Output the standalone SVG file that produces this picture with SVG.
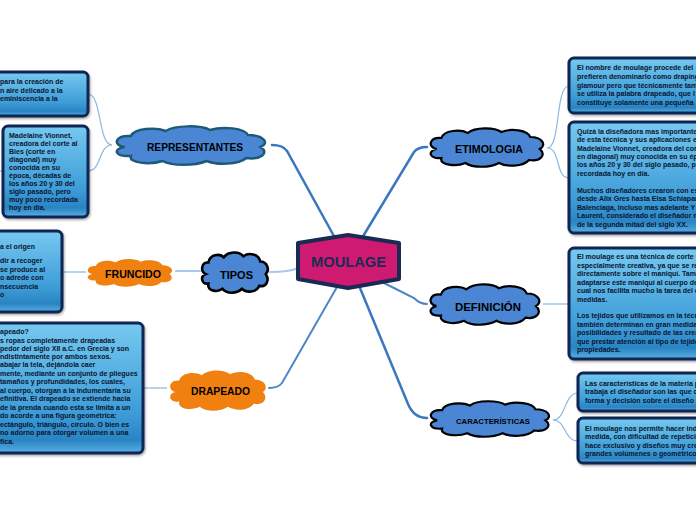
<svg xmlns="http://www.w3.org/2000/svg" xmlns:xlink="http://www.w3.org/1999/xlink" width="696" height="520" viewBox="0 0 696 520">
<defs>
<linearGradient id="boxg" x1="0" y1="0" x2="0" y2="1">
<stop offset="0" stop-color="#76c9f0"/>
<stop offset="0.7" stop-color="#3d9cd7"/>
<stop offset="0.9" stop-color="#2a84c3"/>
<stop offset="1" stop-color="#5aafe2"/>
</linearGradient>
<filter id="sh" x="-10%" y="-10%" width="120%" height="130%">
<feDropShadow dx="1" dy="1.5" stdDeviation="1" flood-color="#000" flood-opacity="0.35"/>
</filter>
<path id="cloud" vector-effect="non-scaling-stroke" d="M8,22 C0,20 2,10 12,11 C14,3 28,2 34,6 C40,0 56,0 62,5 C70,1 84,3 86,10 C96,10 100,18 94,22 C100,28 94,35 85,33 C80,40 66,40 60,36 C52,41 38,41 32,36 C24,40 10,38 12,31 C2,32 0,24 8,22 Z"/>
</defs>
<style>
.box{fill:url(#boxg);stroke:#0e2552;stroke-width:3;filter:url(#sh)}
.bt{font-family:"Liberation Sans",Arial,sans-serif;font-weight:bold;font-size:7px;fill:#0a1530}
.ct{font-family:"Liberation Sans",Arial,sans-serif;font-weight:bold;fill:#000;text-anchor:middle}
.blue{fill:#4a86d3;stroke:#000;stroke-width:2.2}
.orange{fill:#f08010;stroke:none}
.main{fill:none;stroke:#3a77c0;stroke-width:2.5;stroke-linecap:round}
.mainl{fill:none;stroke:#a9c8e8;stroke-width:2.2;stroke-linecap:round}
.thin{fill:none;stroke:#8db6e0;stroke-width:1.2}
</style>
<rect width="696" height="520" fill="#ffffff"/>
<g id="connectors">
<path class="main" d="M335,238 L287,151 Q283,145 272,145"/>
<path class="main" d="M362,238 L414,152 Q418,147 427,147"/>
<path class="mainl" d="M298,268 Q290,272 270,272"/>
<path class="main" d="M337,287 L282,383 Q278,388 269,388" style="stroke:#4d86c6;stroke-width:2"/>
<path class="main" d="M384,283 L414,298 Q420,304 427,304" style="stroke:#4d86c6;stroke-width:2"/>
<path class="main" d="M360,288 L408,404 Q414,418 427,418"/>
<path class="mainl" d="M200,271 L176,271"/>
<path class="thin" d="M86,272 L62,272"/>
<path class="thin" d="M167,388 L143,388"/>
<path class="thin" d="M112,145 C98,145 102,94 88,94"/>
<path class="thin" d="M112,145 C98,145 102,171 88,171"/>
<path class="thin" d="M0,171 L4,171"/>
<path class="thin" d="M547,148 C561,148 555,86 569,86"/>
<path class="thin" d="M547,148 C561,148 555,178 569,178"/>
<path class="thin" d="M543,304 L569,304"/>
<path class="thin" d="M553,420 C566,420 564,393 578,393"/>
<path class="thin" d="M553,420 C566,420 564,441 578,441"/>
</g>
<g id="moulage">
<path d="M298,243 L348,235 L399,243 L399,279 L348,288 L298,279 Z" fill="#cf1a72" stroke="#1b2a52" stroke-width="4" stroke-linejoin="round"/>
<text x="348.5" y="267" font-family="'Liberation Sans',Arial,sans-serif" font-weight="bold" font-size="15.5" fill="#1b2a52" text-anchor="middle" textLength="75" lengthAdjust="spacingAndGlyphs">MOULAGE</text>
</g>
<g id="representantes">
<use xlink:href="#cloud" href="#cloud" class="blue" style="stroke:#1c5a78;stroke-width:2.5" transform="translate(112,125) scale(1.58,1)"/>
<text class="ct" x="195" y="151" font-size="11" textLength="96" lengthAdjust="spacingAndGlyphs">REPRESENTANTES</text>
</g>
<g id="etimologia">
<use xlink:href="#cloud" href="#cloud" class="blue" transform="translate(427,127) scale(1.2,1)"/>
<text class="ct" x="489" y="153" font-size="11" textLength="68" lengthAdjust="spacingAndGlyphs">ETIMOLOGIA</text>
</g>
<g id="tipos">
<use xlink:href="#cloud" href="#cloud" class="blue" style="stroke-width:2.6" transform="translate(200,251) scale(0.7,1.05)"/>
<text class="ct" x="236.5" y="279" font-size="11" textLength="33" lengthAdjust="spacingAndGlyphs">TIPOS</text>
</g>
<g id="fruncido">
<use xlink:href="#cloud" href="#cloud" class="orange" transform="translate(85,258) scale(0.9,0.725)"/>
<text class="ct" x="133" y="278" font-size="11" textLength="56" lengthAdjust="spacingAndGlyphs">FRUNCIDO</text>
</g>
<g id="drapeado">
<use xlink:href="#cloud" href="#cloud" class="orange" transform="translate(167,369) scale(1.02,1.05)"/>
<text class="ct" x="220.5" y="395" font-size="11" textLength="59" lengthAdjust="spacingAndGlyphs">DRAPEADO</text>
</g>
<g id="definicion">
<use xlink:href="#cloud" href="#cloud" class="blue" transform="translate(427,283) scale(1.16,1.05)"/>
<text class="ct" x="488" y="311" font-size="11" textLength="66" lengthAdjust="spacingAndGlyphs">DEFINICIÓN</text>
</g>
<g id="caracteristicas">
<use xlink:href="#cloud" href="#cloud" class="blue" transform="translate(427,400) scale(1.26,0.925)"/>
<text class="ct" x="493" y="424" font-size="7.5" textLength="74" lengthAdjust="spacingAndGlyphs">CARACTERÍSTICAS</text>
</g>
<g id="box-rep1">
<rect class="box" x="-10" y="72" width="98" height="44" rx="5"/>
<text class="bt" x="0" y="84">para la creación de</text>
<text class="bt" x="0" y="92.5">n aire delicado a la</text>
<text class="bt" x="0" y="101">eminiscencia a la</text>
</g>
<g id="box-rep2">
<rect class="box" x="3" y="126" width="85" height="91" rx="5"/>
<text class="bt" x="9" y="138">Madelaine Vionnet,</text>
<text class="bt" x="9" y="146">creadora del corte al</text>
<text class="bt" x="9" y="154">Bies (corte en</text>
<text class="bt" x="9" y="162">diagonal) muy</text>
<text class="bt" x="9" y="170">conocida en su</text>
<text class="bt" x="9" y="177.5">época, décadas de</text>
<text class="bt" x="9" y="185.5">los años 20 y 30 del</text>
<text class="bt" x="9" y="193.5">siglo pasado, pero</text>
<text class="bt" x="9" y="201.5">muy poco recordada</text>
<text class="bt" x="9" y="209.5">hoy en día.</text>
</g>
<g id="box-fruncido">
<rect class="box" x="-10" y="231" width="72" height="81" rx="5"/>
<text class="bt" x="0" y="249">a el origen</text>
<text class="bt" x="0" y="263">dir a recoger</text>
<text class="bt" x="0" y="271.5">se produce al</text>
<text class="bt" x="0" y="280">o adrede con</text>
<text class="bt" x="0" y="288.5">nsecuencia</text>
<text class="bt" x="0" y="297">o</text>
</g>
<g id="box-drapeado">
<rect class="box" x="-10" y="323" width="153" height="130" rx="5"/>
<text class="bt" x="0" y="334">apeado?</text>
<text class="bt" x="0" y="342.5">s ropas completamente drapeadas</text>
<text class="bt" x="0" y="350.5">pedor del siglo XII a.C. en Grecia y son</text>
<text class="bt" x="0" y="358.5">ndistintamente por ambos sexos.</text>
<text class="bt" x="0" y="367">abajar la tela, dejándola caer</text>
<text class="bt" x="0" y="375.5">mente, mediante un conjunto de pliegues</text>
<text class="bt" x="0" y="384">tamaños y profundidades, los cuales,</text>
<text class="bt" x="0" y="392.5">al cuerpo, otorgan a la indumentaria su</text>
<text class="bt" x="0" y="401">efinitiva. El drapeado se extiende hacia</text>
<text class="bt" x="0" y="409.5">de la prenda cuando esta se limita a un</text>
<text class="bt" x="0" y="418">do acorde a una figura geométrica:</text>
<text class="bt" x="0" y="426.5">ectángulo, triángulo, círculo. O bien es</text>
<text class="bt" x="0" y="435">no adorno para otorgar volumen a una</text>
<text class="bt" x="0" y="443.5">fica.</text>
</g>
<g id="box-etim1">
<rect class="box" x="569" y="58" width="140" height="55" rx="5"/>
<text class="bt" x="577" y="70">El nombre de moulage procede del</text>
<text class="bt" x="577" y="79">prefieren denominarlo como draping</text>
<text class="bt" x="577" y="87.5">glamour pero que técnicamente tam</text>
<text class="bt" x="577" y="96">se utiliza la palabra drapeado, que l</text>
<text class="bt" x="577" y="105">constituye solamente una pequeña</text>
</g>
<g id="box-etim2">
<rect class="box" x="569" y="122" width="140" height="111" rx="5"/>
<text class="bt" x="577" y="134">Quizá la diseñadora mas importante</text>
<text class="bt" x="577" y="142">de esta técnica y sus aplicaciones e</text>
<text class="bt" x="577" y="150.5">Madelaine Vionnet, creadora del cor</text>
<text class="bt" x="577" y="159">en diagonal) muy conocida en su ép</text>
<text class="bt" x="577" y="167">los años 20 y 30 del siglo pasado, p</text>
<text class="bt" x="577" y="175.5">recordada hoy en día.</text>
<text class="bt" x="577" y="192.5">Muchos diseñadores crearon con es</text>
<text class="bt" x="577" y="201">desde Alix Gres hasta Elsa Schiapar</text>
<text class="bt" x="577" y="209.5">Balenciaga, incluso mas adelante Y</text>
<text class="bt" x="577" y="218">Laurent, considerado el diseñador m</text>
<text class="bt" x="577" y="226.5">de la segunda mitad del siglo XX.</text>
</g>
<g id="box-def">
<rect class="box" x="569" y="248" width="140" height="111" rx="5"/>
<text class="bt" x="577" y="259">El moulage es una técnica de corte y</text>
<text class="bt" x="577" y="267.5">especialmente creativa, ya que se re</text>
<text class="bt" x="577" y="276">directamente sobre el maniquí. Tamb</text>
<text class="bt" x="577" y="284.5">adaptarse este maniquí al cuerpo de</text>
<text class="bt" x="577" y="293">cual nos facilita mucho la tarea del e</text>
<text class="bt" x="577" y="301.5">medidas.</text>
<text class="bt" x="577" y="318">Los tejidos que utilizamos en la técn</text>
<text class="bt" x="577" y="326.5">también determinan en gran medida</text>
<text class="bt" x="577" y="335">posibilidades y resultado de las crea</text>
<text class="bt" x="577" y="343.5">que prestar atención al tipo de tejido</text>
<text class="bt" x="577" y="352">propiedades.</text>
</g>
<g id="box-car1">
<rect class="box" x="578" y="373" width="130" height="38" rx="5"/>
<text class="bt" x="585" y="385.5">Las características de la materia p</text>
<text class="bt" x="585" y="394">trabaja el diseñador son las que c</text>
<text class="bt" x="585" y="402.5">forma y decisión sobre el diseño</text>
</g>
<g id="box-car2">
<rect class="box" x="578" y="418" width="130" height="45" rx="5"/>
<text class="bt" x="585" y="430.5">El moulage nos permite hacer ind</text>
<text class="bt" x="585" y="439">medida, con dificultad de repetici</text>
<text class="bt" x="585" y="447.5">hace exclusivo y diseños muy cre</text>
<text class="bt" x="585" y="456">grandes volúmenes o geométricos</text>
</g>
</svg>
